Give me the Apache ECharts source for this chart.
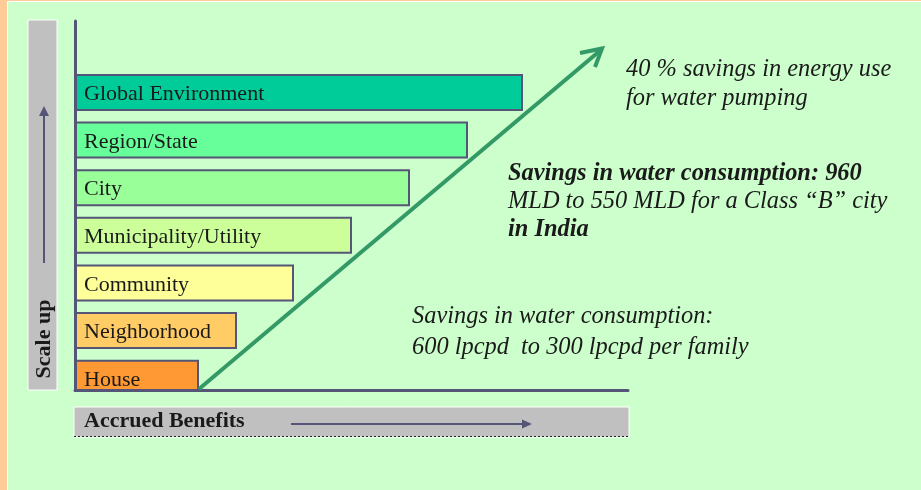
<!DOCTYPE html>
<html>
<head>
<meta charset="UTF-8">
<script type="text/javascript" src="https://cdn.jsdelivr.net/npm/echarts@6/dist/echarts.min.js"></script>
<title>Scale up / Accrued Benefits</title>
<style>
	html, body { margin: 0; padding: 0; background: #FFCC99; }
	#main { width: 921px; height: 490px; }
</style>
</head>
<body>
<div id="main"></div>
<script>
	// levels, top to bottom (first slot left empty so the axis rises above the bars)
	var levels = ['', 'Global Environment', 'Region/State', 'City', 'Municipality/Utility', 'Community', 'Neighborhood', 'House'];
	// relative benefit reached at each level (axis runs 0..553)
	var benefit = [null, 448, 393, 335, 277, 219, 162, 124];
	var levelColors = ['#CCFFCC', '#00CC99', '#66FF99', '#99FF99', '#CCFF99', '#FFFF99', '#FFCC66', '#FF9933'];
	var benefitMax = 553;

	var noteEnergy = ['40 % savings in energy use', 'for water pumping'];
	var noteCity = ['Savings in water consumption: 960', 'MLD to 550 MLD for a Class \u201CB\u201D city', 'in India'];
	var noteFamily = ['Savings in water consumption:', '600 lpcpd  to 300 lpcpd per family'];

	var serif = '"Liberation Serif", "Times New Roman", serif';
	var axisColor = '#555577';
	var green = '#CCFFCC';

	var myChart = echarts.init(document.getElementById('main'));

	function txt(x, y, s, bold, italic) {
		return {
			type: 'text', x: x, y: y, z: 50,
			style: {
				text: s, fill: '#1a1a1a',
				font: (italic ? 'italic ' : '') + (bold ? 'bold ' : '') + '24.4px ' + serif,
				verticalAlign: 'middle'
			}
		};
	}

	var option = {
		backgroundColor: green,
		animation: false,
		grid: { left: 75, top: 21, width: 553, height: 381 },
		xAxis: {
			type: 'value', min: 0, max: benefitMax,
			offset: -12, z: 80,
			axisLine: { show: true, lineStyle: { color: axisColor, width: 3 } },
			axisTick: { show: false }, axisLabel: { show: false }, splitLine: { show: false }
		},
		yAxis: {
			type: 'category', data: levels, inverse: true,
			axisLine: { show: true, lineStyle: { color: axisColor, width: 3 } },
			axisTick: { show: false }, axisLabel: { show: false }, splitLine: { show: false }
		},
		series: [{
			type: 'bar',
			barWidth: 37,
			data: benefit.map(function(v, i) {
				return { value: v, itemStyle: { color: levelColors[i] } };
			}),
			itemStyle: { borderColor: axisColor, borderWidth: 2 },
			label: {
				show: true, position: 'insideLeft', distance: 9, offset: [0, 2],
				formatter: '{b}', fontFamily: serif, fontSize: 22, color: '#1a1a1a'
			}
		}],
		graphic: []
	};
	myChart.setOption(option);

	// start of the green arrow: the end of the House bar, on the x axis
	var startX = myChart.convertToPixel({ xAxisIndex: 0 }, benefit[7]);
	var g = [
		// orange frame and white edge of the slide
		{ type: 'rect', z: 1, shape: { x: 0, y: 0, width: 7, height: 490 }, style: { fill: '#FFCC99' } },
		{ type: 'rect', z: 1, shape: { x: 0, y: 0, width: 921, height: 1 }, style: { fill: '#FFCC99' } },
		{ type: 'line', z: 1, shape: { x1: 7.5, y1: 1, x2: 7.5, y2: 490 }, style: { stroke: '#ffffff', lineWidth: 1 } },
		{ type: 'line', z: 1, shape: { x1: 7, y1: 1.5, x2: 921, y2: 1.5 }, style: { stroke: '#ffffff', lineWidth: 1 } },
		// hide the part of the plot under the x axis
		{ type: 'rect', z: 60, shape: { x: 60, y: 391, width: 200, height: 13 }, style: { fill: green } },
		// Scale up box
		{ type: 'rect', z: 5, shape: { x: 28, y: 20, width: 29, height: 370 }, style: { fill: '#C0C0C0', stroke: '#ffffff', lineWidth: 1 } },
		{ type: 'line', z: 6, shape: { x1: 44, y1: 263, x2: 44, y2: 114 }, style: { stroke: axisColor, lineWidth: 2 } },
		{ type: 'polygon', z: 6, shape: { points: [[44, 106], [39, 116], [49, 116]] }, style: { fill: axisColor } },
		{
			type: 'text', z: 7, x: 44, y: 339, rotation: Math.PI / 2,
			style: { text: 'Scale up', font: 'bold 22px ' + serif, fill: '#1a1a1a', align: 'center', verticalAlign: 'middle' }
		},
		// Accrued Benefits box
		{ type: 'rect', z: 5, shape: { x: 74, y: 407, width: 555, height: 30 }, style: { fill: '#C0C0C0', stroke: '#ffffff', lineWidth: 1 } },
		{ type: 'line', z: 6, shape: { x1: 74, y1: 436.5, x2: 629, y2: 436.5 }, style: { stroke: '#222222', lineWidth: 1, lineDash: [2, 2] } },
		{ type: 'text', z: 7, x: 84, y: 421, style: { text: 'Accrued Benefits', font: 'bold 22px ' + serif, fill: '#1a1a1a', verticalAlign: 'middle' } },
		{ type: 'line', z: 6, shape: { x1: 291, y1: 424, x2: 524, y2: 424 }, style: { stroke: axisColor, lineWidth: 2 } },
		{ type: 'polygon', z: 6, shape: { points: [[532, 424], [522, 419.5], [522, 428.5]] }, style: { fill: axisColor } },
		// green arrow
		{ type: 'line', z: 90, shape: { x1: startX, y1: 389, x2: 602, y2: 49 }, style: { stroke: '#339966', lineWidth: 4 } },
		{ type: 'polyline', z: 90, shape: { points: [[580, 53], [602, 48.5], [595, 67]] }, style: { stroke: '#339966', lineWidth: 4, fill: null } }
	];
	// notes
	noteEnergy.forEach(function(s, i) { g.push(txt(626, 70 + i * 29, s, false, true)); });
	noteCity.forEach(function(s, i) { g.push(txt(508, 174 + i * 28, s, i !== 1, true)); });
	noteFamily.forEach(function(s, i) { g.push(txt(412, 317 + i * 31, s, false, true)); });

	myChart.setOption({ graphic: g });
</script>
</body>
</html>
